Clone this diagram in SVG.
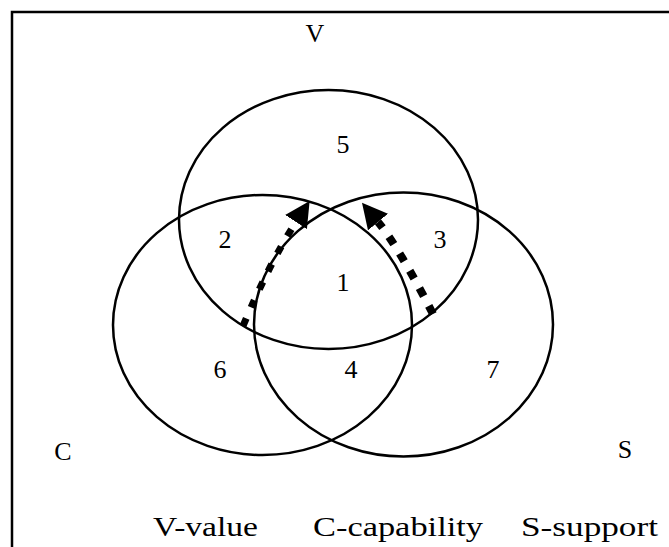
<svg xmlns="http://www.w3.org/2000/svg" width="669" height="547" viewBox="0 0 669 547">
  <style>
    .ring { fill: none; stroke: #000; stroke-width: 2.5; }
    .lbl { font-family: "Liberation Serif", "Times New Roman", serif; fill: #000; }
    .num { font-size: 26px; text-anchor: middle; }
    .set { font-size: 26px; text-anchor: middle; }
    .key { font-size: 28px; }
    .flow { fill: none; stroke: #000; marker-end: url(#head); }
  </style>
  <defs>
    <marker id="head" markerUnits="userSpaceOnUse" viewBox="0 0 25 26" markerWidth="25" markerHeight="26" refX="0" refY="13" orient="auto">
      <path d="M0,0 L25,13 L0,26 z" fill="#000"/>
    </marker>
  </defs>
  <rect x="12" y="12" width="700" height="600" fill="none" stroke="#000" stroke-width="2.5"/>

  <g id="circle-V">
    <ellipse class="ring" cx="328.5" cy="219.5" rx="149.5" ry="129.5"/>
  </g>
  <g id="circle-C">
    <ellipse class="ring" cx="262.5" cy="325" rx="149.5" ry="130"/>
  </g>
  <g id="circle-S">
    <ellipse class="ring" cx="403.5" cy="324.5" rx="149.5" ry="132"/>
  </g>

  <g id="regions">
    <text class="lbl num" x="343" y="153">5</text>
    <text class="lbl num" x="225" y="248">2</text>
    <text class="lbl num" x="440" y="248">3</text>
    <text class="lbl num" x="343" y="291">1</text>
    <text class="lbl num" x="220" y="378">6</text>
    <text class="lbl num" x="351" y="378">4</text>
    <text class="lbl num" x="493" y="378">7</text>
  </g>

  <g id="set-labels">
    <text class="lbl set" x="315" y="42">V</text>
    <text class="lbl set" x="63" y="460">C</text>
    <text class="lbl set" x="625" y="458">S</text>
  </g>

  <g id="connectors">
    <path class="flow" d="M243,326 Q270,262 296,222" stroke-width="7" stroke-dasharray="8 12"/>
    <path class="flow" d="M433,314 Q398,246 378,222" stroke-width="8" stroke-dasharray="9 11"/>
  </g>

  <g id="legend">
    <text class="lbl key" x="153" y="536" textLength="105" lengthAdjust="spacingAndGlyphs">V-value</text>
    <text class="lbl key" x="313" y="536" textLength="170" lengthAdjust="spacingAndGlyphs">C-capability</text>
    <text class="lbl key" x="521" y="536" textLength="137" lengthAdjust="spacingAndGlyphs">S-support</text>
  </g>
</svg>
